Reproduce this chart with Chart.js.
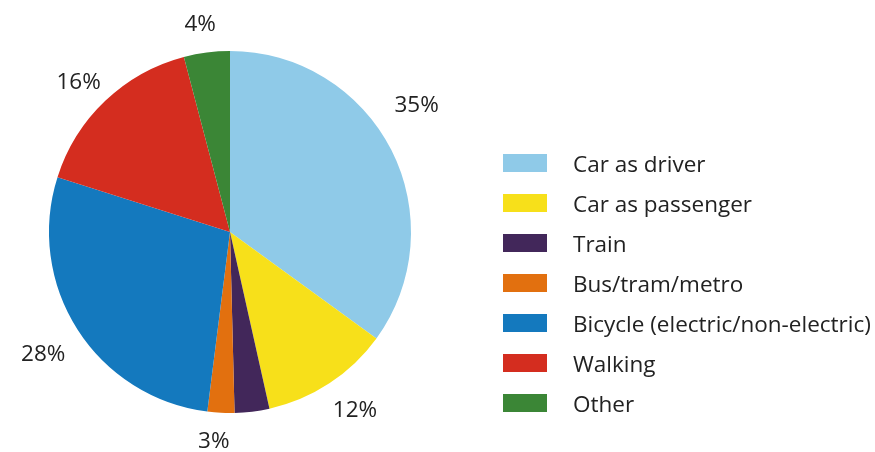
<!DOCTYPE html>
<html>
<head>
<meta charset="utf-8">
<script src="https://cdn.jsdelivr.net/npm/chart.js@4/dist/chart.umd.min.js"></script>
<style>
  html, body { margin: 0; padding: 0; background: #fff; }
  #wrap { width: 875px; height: 452px; position: relative; }
</style>
</head>
<body>
<div id="wrap"><canvas id="myChart" width="875" height="452"></canvas></div>
<script>
const categories = ["Car as driver", "Car as passenger", "Train", "Bus/tram/metro",
  "Bicycle (electric/non-electric)", "Walking", "Other"];
const shares = [35, 11.5, 3.1, 2.4, 27.9, 16, 4.1];
const shareLabels = ["35%", "12%", "", "3%", "28%", "16%", "4%"];
const colors = ["#8fcae8", "#f7e01a", "#42275a", "#e2700f", "#1479be", "#d42d1f", "#3b8636"];

const FONT = "'Open Sans', 'Noto Sans', sans-serif";
const TEXT = "#222222";

// percentage labels outside each slice (small hand nudges like the original)
const nudges = [[-13, -31], [2, 3], [0, 0], [-5, 0], [2, 10], [3, 3], [-1, 1]];
const sliceLabels = {
  id: "sliceLabels",
  afterDatasetsDraw(chart) {
    const ctx = chart.ctx;
    const meta = chart.getDatasetMeta(0);
    ctx.save();
    ctx.font = "22.5px " + FONT;
    ctx.fillStyle = TEXT;
    ctx.textAlign = "center";
    ctx.textBaseline = "middle";
    meta.data.forEach((arc, i) => {
      if (!shareLabels[i]) return;
      const p = arc.getProps(["x", "y", "startAngle", "endAngle", "outerRadius"], true);
      const mid = (p.startAngle + p.endAngle) / 2;
      const cx = Math.cos(mid), cy = Math.sin(mid);
      const x = p.x + cx * (p.outerRadius + 43) + nudges[i][0];
      const y = p.y + cy * (p.outerRadius + 29) + nudges[i][1];
      ctx.fillText(shareLabels[i], x, y);
    });
    ctx.restore();
  }
};

// legend on the right
const sideLegend = {
  id: "sideLegend",
  afterDraw(chart) {
    const ctx = chart.ctx;
    ctx.save();
    ctx.font = "22.5px " + FONT;
    ctx.textBaseline = "alphabetic";
    categories.forEach((name, i) => {
      const y = 163 + i * 40;
      ctx.fillStyle = colors[i];
      ctx.fillRect(503, y - 9, 44, 18);
      ctx.fillStyle = TEXT;
      ctx.fillText(name, 573, y + 8.5);
    });
    ctx.restore();
  }
};

new Chart(document.getElementById("myChart").getContext("2d"), {
  type: "pie",
  data: {
    labels: categories,
    datasets: [{
      data: shares,
      backgroundColor: colors,
      borderWidth: 0
    }]
  },
  options: {
    responsive: false,
    animation: false,
    layout: { padding: { top: 51, bottom: 39, left: 49, right: 464 } },
    plugins: {
      legend: { display: false },
      tooltip: { enabled: false }
    }
  },
  plugins: [sliceLabels, sideLegend]
});
</script>
</body>
</html>
